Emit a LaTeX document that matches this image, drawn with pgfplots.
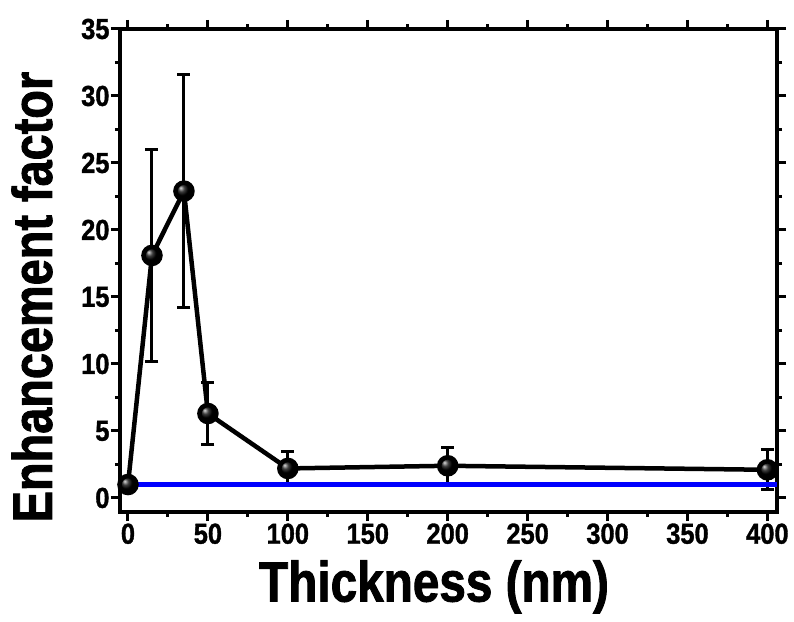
\documentclass[border=0pt]{standalone}
\usepackage{pgfplots}
\pgfplotsset{compat=1.18}
\usepackage{fontspec}
\setmainfont{Liberation Sans}
\newfontfamily\labfont{Liberation Sans}[FakeStretch=0.84, FakeBold=1.5]
\newfontfamily\tickfont{Liberation Sans}[FakeStretch=0.88, FakeBold=1.2]
\begin{document}
\begin{tikzpicture}
\path[use as bounding box] (0,0) rectangle (794bp,622bp);
\begin{axis}[
  at={(120bp,110bp)}, anchor=south west,
  scale only axis, width=657bp, height=483bp,
  xmin=-5, xmax=406, ymin=-1.05, ymax=35,
  xtick={0,50,...,400}, ytick={0,5,...,35},
  minor xtick={25,75,...,375}, minor ytick={2.5,7.5,...,32.5},
  tick align=outside, tick pos=both,
  major tick length=9bp, minor tick length=5bp,
  every tick/.style={line width=3bp, black},
  axis line style={line width=4bp},
  /pgf/number format/assume math mode=true,
  tick label style={font=\tickfont\bfseries\fontsize{29}{29}\selectfont},
  xticklabel style={yshift=1bp},
  yticklabel style={xshift=2bp},
  xlabel={\labfont\bfseries\fontsize{57}{57}\selectfont Thickness (nm)},
  ylabel={\labfont\bfseries\fontsize{56}{56}\selectfont Enhancement factor},
  xlabel style={at={(axis description cs:0.478,-0.155)}, anchor=center},
  ylabel style={at={(axis description cs:-0.134,0.445)}, anchor=center, rotate=0},
  clip=false,
]
\addplot[black, line width=4.5bp, mark=ball, mark size=8.5bp, mark options={ball color=black},
  error bars/.cd, y dir=both, y explicit, error mark options={rotate=90, mark size=6.5bp, line width=3bp},
  error bar style={line width=3bp}]
  coordinates {
  (0,1.0) +- (0,0.4)
  (15,18.1) +- (0,7.9)
  (35,22.9) +- (0,8.7)
  (50,6.3) +- (0,2.3)
  (100,2.2) +- (0,1.3)
  (200,2.4) +- (0,1.4)
  (400,2.1) +- (0,1.5)
  };
\addplot[blue, line width=4.5bp] coordinates {(-5,1) (406,1)};
\end{axis}
\end{tikzpicture}
\end{document}
